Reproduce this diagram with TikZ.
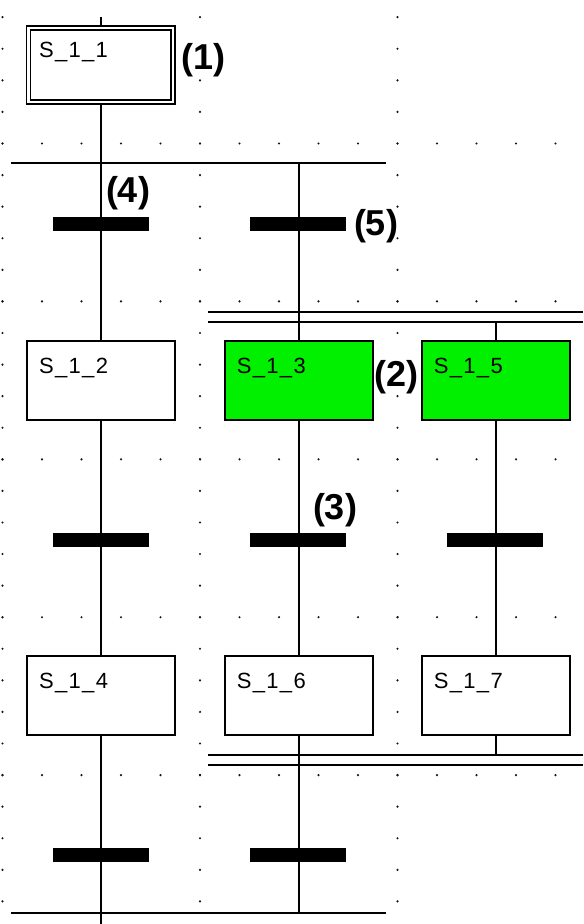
\documentclass[tikz,border=0pt]{standalone}
\usepackage{fontspec}
\setmainfont{Liberation Sans}
\newfontfamily\boxfont[LetterSpace=6]{Liberation Sans}
\usetikzlibrary{calc}
\pgfdeclarelayer{background}
\pgfsetlayers{background,main}
\definecolor{stepgreen}{RGB}{0,240,0}
\definecolor{dotc}{RGB}{20,20,20}
\begin{document}
\begin{tikzpicture}[x=0.5pt,y=-0.5pt,
  stepbox/.style={draw=black, line width=1pt, fill=white, minimum width={148*0.5pt}, minimum height={79*0.5pt}, inner sep=0pt},
  activebox/.style={stepbox, fill=stepgreen},
  initbox/.style={draw=black, fill=white, line width=0.8pt, double=white, double distance=1.2pt, minimum width={144.5*0.5pt}, minimum height={74*0.5pt}, inner sep=0pt},
  tbar/.style={fill=black, draw=none, minimum width={96*0.5pt}, minimum height={14*0.5pt}, inner sep=0pt},
  steptext/.style={anchor=north west, inner sep=0pt, font=\boxfont\fontsize{11pt}{11pt}\selectfont},
  numlabel/.style={inner sep=0pt, font=\bfseries\fontsize{18pt}{18pt}\selectfont},
  wire/.style={line width=1pt},
  gdot/.style={fill=dotc, draw=none}
]
\useasboundingbox (0,0) rectangle (583,924);

% steps
\node[initbox] (s11) at (100.75,65) {};
\node[steptext] (t11) at ($(s11.north west)+(11,15)$) {S\_1\_1};
\node[stepbox] (s12) at (100.75,380.5) {};
\node[steptext] (t12) at ($(s12.north west)+(13,17.5)$) {S\_1\_2};
\node[activebox] (s13) at (298.5,380.5) {};
\node[steptext] (t13) at ($(s13.north west)+(13,17.5)$) {S\_1\_3};
\node[activebox] (s15) at (495.5,380.5) {};
\node[steptext] (t15) at ($(s15.north west)+(13,17.5)$) {S\_1\_5};
\node[stepbox] (s14) at (100.75,695.5) {};
\node[steptext] (t14) at ($(s14.north west)+(13,17.5)$) {S\_1\_4};
\node[stepbox] (s16) at (298.5,695.5) {};
\node[steptext] (t16) at ($(s16.north west)+(13,17.5)$) {S\_1\_6};
\node[stepbox] (s17) at (495.5,695.5) {};
\node[steptext] (t17) at ($(s17.north west)+(13,17.5)$) {S\_1\_7};

% transitions
\node[tbar] (b1a) at (101,224) {};
\node[tbar] (b1b) at (298,224) {};
\node[tbar] (b2a) at (101,539.5) {};
\node[tbar] (b2b) at (298,539.5) {};
\node[tbar] (b2c) at (495,539.5) {};
\node[tbar] (b3a) at (101,855) {};
\node[tbar] (b3b) at (298,855) {};

% labels
\node[numlabel] (l1) at (203.5,60) {(1)};
\node[numlabel] (l2) at (396.5,377.5) {(2)};
\node[numlabel] (l3) at (335,510) {(3)};
\node[numlabel] (l4) at (128,193.5) {(4)};
\node[numlabel] (l5) at (376,226) {(5)};

% coordinates for bus lines
\coordinate (c1top) at (100.75,17);
\coordinate (c1bot) at (100.75,924);
\coordinate (h1l) at (11,163.5);
\coordinate (h1r) at (385.5,163.5);
\coordinate (d1al) at (208,312);
\coordinate (d1ar) at (583,312);
\coordinate (d1bl) at (208,322);
\coordinate (d1br) at (583,322);
\coordinate (d2al) at (208,755);
\coordinate (d2ar) at (583,755);
\coordinate (d2bl) at (208,765);
\coordinate (d2br) at (583,765);
\coordinate (h4l) at (11,912.5);
\coordinate (h4r) at (386,912.5);

\begin{pgfonlayer}{background}
  \fill[white] (0,0) rectangle (583,924);
  % dot grid
  \foreach \j in {0,...,4}
    \foreach \i in {0,...,14}
      \fill[gdot] ({2.5+39.5*\i},{143.5+157.9*\j}) circle[radius=0.6pt];
  \foreach \k in {0,1,2}
    \foreach \m in {-4,...,24}
      \fill[gdot] ({2.5+197.5*\k},{143.5+31.58*\m}) circle[radius=0.6pt];
  % buses
  \draw[wire] (h1l) -- (h1r);
  \draw[wire] (d1al) -- (d1ar);
  \draw[wire] (d1bl) -- (d1br);
  \draw[wire] (d2al) -- (d2ar);
  \draw[wire] (d2bl) -- (d2br);
  \draw[wire] (h4l) -- (h4r);
  % column 1
  \draw[wire] (c1top) -- (s11.north);
  \draw[wire] (s11.south) -- (s12.north);
  \draw[wire] (s12.south) -- (s14.north);
  \draw[wire] (s14.south) -- (c1bot);
  % column 2
  \draw[wire] (s13.north |- h1l) -- (s13.north);
  \draw[wire] (s13.south) -- (s16.north);
  \draw[wire] (s16.south) -- (s16.south |- h4l);
  % column 3
  \draw[wire] (s15.north |- d1bl) -- (s15.north);
  \draw[wire] (s15.south) -- (s17.north);
  \draw[wire] (s17.south) -- (s17.south |- d2al);
\end{pgfonlayer}
\end{tikzpicture}
\end{document}
